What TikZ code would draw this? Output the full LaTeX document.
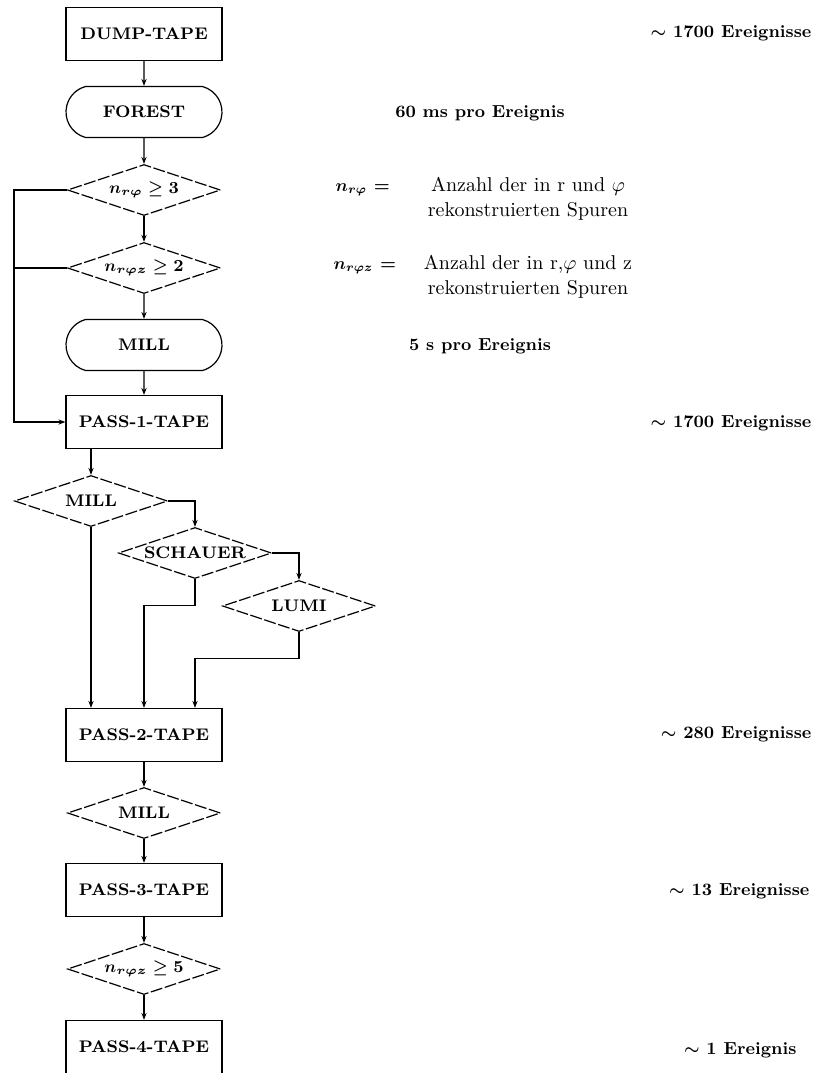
\RequirePackage{fix-cm}
\documentclass[tikz,border=0pt]{standalone}
\usepackage{fontspec}
\usetikzlibrary{shapes.geometric,shapes.misc,arrows.meta}
\begin{document}
\begin{tikzpicture}[x=0.5pt,y=-0.5pt,
  line width=0.6pt,
  lbl/.style={font=\fontsize{8.4}{10}\selectfont\bfseries\boldmath},
  box/.style={draw, rectangle, minimum width=78pt, minimum height=26.5pt, inner sep=0pt, lbl},
  roundbox/.style={draw, rounded rectangle, rounded rectangle arc length=150, minimum width=78pt, minimum height=25.5pt, inner sep=0pt, lbl},
  dia/.style={draw, diamond, aspect=3, minimum width=76.5pt, minimum height=25.5pt, inner sep=0pt, dash pattern=on 6pt off 1.3pt, lbl},
  arr/.style={-{Stealth[length=3.5pt,width=2.6pt]}},
  note/.style={font=\fontsize{8.7}{10}\selectfont\bfseries\boldmath, inner sep=0pt},
  expl/.style={font=\fontsize{10}{12.5}\selectfont, inner sep=0pt, align=center}
]
\useasboundingbox (0,0) rectangle (821,1073);

% main column
\node[box] (dump) at (144,34) {DUMP-TAPE};
\node[roundbox] (forest) at (144,112) {FOREST};
\node[dia] (d1) at (144,190) {$n_{r\varphi}\geq 3$};
\node[dia] (d2) at (144,268) {$n_{r\varphi z}\geq 2$};
\node[roundbox] (mill1) at (144,345) {MILL};
\node[box] (pass1) at (144,422) {PASS-1-TAPE};
\node[dia] (mill2) at (91,501) {MILL};
\node[dia] (schauer) at (195,553) {SCHAUER};
\node[dia] (lumi) at (299,606) {LUMI};
\node[box] (pass2) at (144,735) {PASS-2-TAPE};
\node[dia] (mill3) at (144,813) {MILL};
\node[box] (pass3) at (144,890) {PASS-3-TAPE};
\node[dia] (d4) at (144,969) {$n_{r\varphi z}\geq 5$};
\node[box] (pass4) at (144,1047) {PASS-4-TAPE};

% connectors
\draw[arr] (dump) -- (forest);
\draw[arr] (forest) -- (d1);
\draw[arr] (d1) -- (d2);
\draw[arr] (d2) -- (mill1);
\draw[arr] (mill1) -- (pass1);
\coordinate (lft) at (14,190);
\draw[arr] (d1.west) -- (lft) |- (pass1.west);
\draw (d2.west) -- (d2.west -| lft);
\draw[arr] (pass1.south -| mill2.north) -- (mill2.north);
\draw[arr] (mill2.east) -| (schauer.north);
\draw[arr] (schauer.east) -| (lumi.north);
\draw[arr] (mill2.south) -- (mill2.south |- pass2.north);
\draw[arr] (schauer.south) -- ++(0,26) -| (pass2.north);
\draw[arr] (lumi.south) -- ++(0,26) -| (pass2.north -| schauer.south);
\draw[arr] (pass2) -- (mill3);
\draw[arr] (mill3) -- (pass3);
\draw[arr] (pass3) -- (d4);
\draw[arr] (d4) -- (pass4);

% right-hand notes
\node[note, anchor=east] (e1) at (812,33) {$\sim$ 1700 Ereignisse};
\node[note] (t1) at (480,113) {60 ms pro Ereignis};
\node[note, anchor=west] (m1) at (335,190) {$n_{r\varphi}$ =};
\node[expl] (a1) at (528,199) {Anzahl der in r und $\varphi$\\rekonstruierten Spuren};
\node[note, anchor=west] (m2) at (333,268) {$n_{r\varphi z}$ =};
\node[expl] (a2) at (528,277) {Anzahl der in r,$\varphi$ und z\\rekonstruierten Spuren};
\node[note] (t2) at (480,346) {5 s pro Ereignis};
\node[note, anchor=east] (e2) at (812,423) {$\sim$ 1700 Ereignisse};
\node[note, anchor=east] (e3) at (812,734) {$\sim$ 280 Ereignisse};
\node[note, anchor=east] (e4) at (810,891) {$\sim$ 13 Ereignisse};
\node[note, anchor=east] (e5) at (797,1050) {$\sim$ 1 Ereignis};
\end{tikzpicture}
\end{document}
